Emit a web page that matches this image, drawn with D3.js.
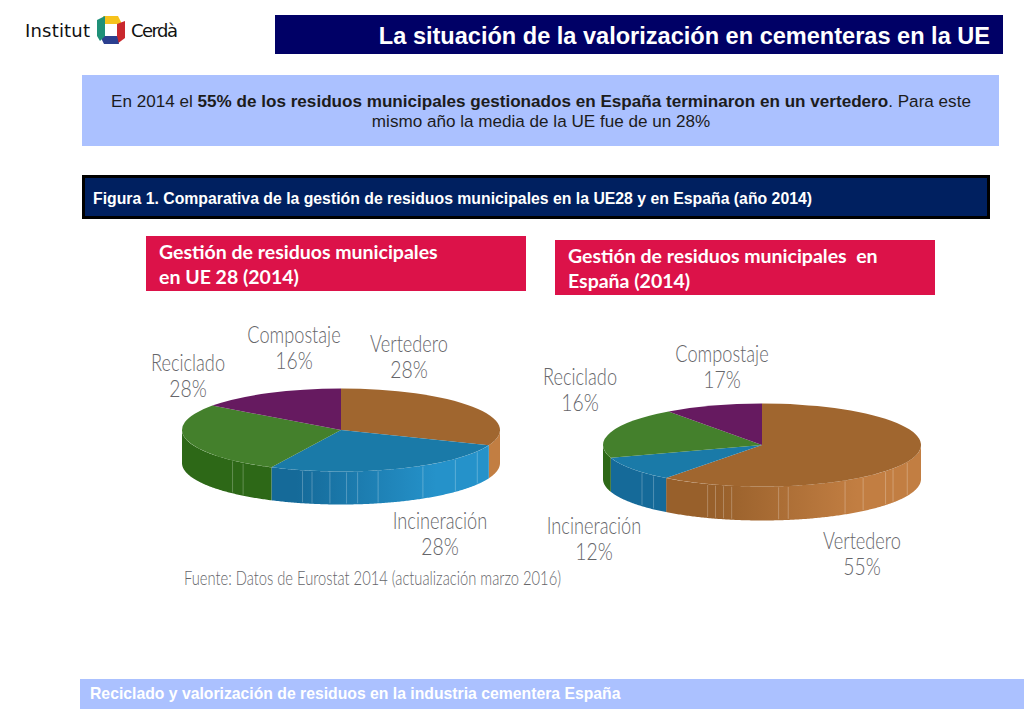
<!DOCTYPE html>
<html lang="es">
<head>
<meta charset="UTF-8">
<title>La situación de la valorización en cementeras en la UE</title>
<style>
    html, body { margin:0; padding:0; background:#fff; }
    svg { display:block; font-family:"Liberation Sans", Arial, sans-serif; }
    .pielabel { font-family:Lato, sans-serif; font-weight:300; font-size:23px; fill:#66666a; text-anchor:middle; }
    .redtitle { font-family:Lato, sans-serif; font-weight:700; font-size:19.5px; fill:#fff; white-space:pre; }
</style>
</head>
<body>
<svg id="chart" width="1024" height="709"></svg>
<script src="https://cdnjs.cloudflare.com/ajax/libs/d3/7.8.5/d3.min.js"></script>
<script>
var categories = ["Vertedero", "Incineración", "Reciclado", "Compostaje"];

// percentages printed on the labels
var ueLabels = [28, 28, 28, 16];
var esLabels = [55, 12, 16, 17];

// share of the circle each slice really takes in the picture (not the printed one)
var ueSlices = [31, 26.2, 27.8, 15];
var esSlices = [60.3, 9.7, 20, 10];

// faint seams on the pie wall, degrees clockwise from 12 o'clock
var ueSeams = [121, 134, 149, 166.5, 174, 178, 184, 190.5, 194, 218, 223];
var esSeams = [114, 124.5, 129, 140.5, 148.5, 170.5, 174, 191, 194, 197, 200, 223, 229];

var topColors = ["#a0662f", "#1a7aa8", "#44802c", "#661a60"];
var wallDark  = ["#98602b", "#156a99", "#2d6817", "#661a60"];
var wallLight = ["#c27e42", "#2592ca", "#3b7a22", "#661a60"];

var svg = d3.select("#chart");
var defs = svg.append("defs");

// header, banners
function box(x, y, w, h, fill) {
    return svg.append("rect").attr("x", x).attr("y", y).attr("width", w).attr("height", h).attr("fill", fill);
}
function label(x, y, txt, size, fill, weight, anchor) {
    return svg.append("text").attr("x", x).attr("y", y).text(txt)
        .style("font-size", size + "px").attr("fill", fill)
        .style("font-weight", weight || "normal").attr("text-anchor", anchor || "start");
}
// the pie captions are a narrow face, squeeze Lato to the same width
function squeeze(sel, k) {
    var w = sel.node().getComputedTextLength();
    sel.attr("textLength", w * k).attr("lengthAdjust", "spacingAndGlyphs");
}

box(275, 15, 728, 39, "#000066");
label(990, 44, "La situación de la valorización en cementeras en la UE", 23.55, "#fff", "bold", "end");

box(82, 75, 917, 71, "#abc1ff");
var line1 = label(541, 107, "", 17.1, "#1c1c1c", "normal", "middle");
line1.append("tspan").text("En 2014 el ");
line1.append("tspan").style("font-weight", "bold").text("55% de los residuos municipales gestionados en España terminaron en un vertedero");
line1.append("tspan").text(". Para este");
label(541, 127, "mismo año la media de la UE fue de un 28%", 17.1, "#1c1c1c", "normal", "middle");

box(83.5, 176.5, 905, 41, "#002060").attr("stroke", "#000").attr("stroke-width", 3);
label(93, 204, "Figura 1. Comparativa de la gestión de residuos municipales en la UE28 y en España (año 2014)", 15.8, "#fff", "bold");

box(80, 679, 944, 30, "#abc1ff");
label(90, 699, "Reciclado y valorización de residuos en la industria cementera España", 15.75, "#fff", "bold");

// logo
var logo = svg.append("g").style("font-family", "'DejaVu Sans', sans-serif").style("font-size", "18px").attr("fill", "#111");
logo.append("text").attr("x", 25).attr("y", 37).attr("textLength", 65).text("Institut");
logo.append("text").attr("x", 131).attr("y", 37).attr("textLength", 47).text("Cerdà");
var logoParts = [
    ["#f6c21c", "103,16 118,16 122,24 105,24"],
    ["#c9282d", "117,24 125,21 125,38 117,44"],
    ["#2b3f8f", "100,36 117,36 119,44 104,44"],
    ["#1f9078", "97,20 105,16 105,36 100,41 97,36"]
];
logo.selectAll("polygon").data(logoParts).enter().append("polygon")
    .attr("fill", function (d) { return d[0]; })
    .attr("points", function (d) { return d[1]; });

// red chart titles
function redTitle(x, y, lines) {
    box(x, y, 380, 55, "#dc1249");
    lines.forEach(function (t, i) {
        svg.append("text").attr("class", "redtitle").attr("x", x + 13).attr("y", y + 23 + i * 24.5).text(t);
    });
}
redTitle(146, 236, ["Gestión de residuos municipales", "en UE 28 (2014)"]);
redTitle(555, 240, ["Gestión de residuos municipales  en", "España (2014)"]);

// flattened pie: top is a d3.arc squashed in y, wall is a d3.area along the front rim
var pie = d3.pie().sort(null).value(function (d) { return d; });

function drawPie(id, cx, cy, rx, ry, depth, slices, seams) {
    var g = svg.append("g").attr("transform", "translate(" + cx + "," + cy + ")");
    var arcs = pie(slices);
    var rimX = function (a) { return rx * Math.sin(a); };
    var rimY = function (a) { return -ry * Math.cos(a); };

    var wall = d3.area()
        .x(function (a) { return rimX(a); })
        .y0(function (a) { return rimY(a); })
        .y1(function (a) { return rimY(a) + depth; });

    arcs.forEach(function (d, i) {
        var a0 = Math.max(d.startAngle, Math.PI / 2), a1 = Math.min(d.endAngle, 3 * Math.PI / 2);
        if (a1 <= a0) return;
        var gradId = id + "-wall-" + i;
        var grad = defs.append("linearGradient").attr("id", gradId)
            .attr("gradientUnits", "userSpaceOnUse")
            .attr("x1", -rx).attr("x2", rx * 0.6).attr("y1", 0).attr("y2", 0);
        grad.append("stop").attr("offset", "0%").attr("stop-color", wallDark[i]);
        grad.append("stop").attr("offset", "45%").attr("stop-color", wallDark[i]);
        grad.append("stop").attr("offset", "100%").attr("stop-color", wallLight[i]);
        var steps = d3.range(a0, a1, 0.01).concat([a1]);
        g.append("path").attr("d", wall(steps)).attr("fill", "url(#" + gradId + ")");
    });

    g.selectAll("line.seam").data(seams).enter().append("line")
        .attr("class", "seam")
        .attr("x1", function (d) { return rimX(d * Math.PI / 180); })
        .attr("x2", function (d) { return rimX(d * Math.PI / 180); })
        .attr("y1", function (d) { return rimY(d * Math.PI / 180) + 1; })
        .attr("y2", function (d) { return rimY(d * Math.PI / 180) + depth - 1; })
        .attr("stroke", "#fff").attr("stroke-opacity", 0.25).attr("stroke-width", 1);

    var top = g.append("g").attr("transform", "scale(1," + (ry / rx) + ")");
    var arc = d3.arc().innerRadius(0).outerRadius(rx);
    top.selectAll("path").data(arcs).enter().append("path")
        .attr("d", arc)
        .attr("fill", function (d, i) { return topColors[i]; });
}

drawPie("ue", 341, 430, 159, 41.5, 33, ueSlices, ueSeams);
drawPie("es", 762, 445, 159, 41.5, 34, esSlices, esSeams);

// labels
function pieLabel(x, y, name, value) {
    squeeze(svg.append("text").attr("class", "pielabel").attr("x", x).attr("y", y).text(name), 0.79);
    squeeze(svg.append("text").attr("class", "pielabel").attr("x", x).attr("y", y + 26).text(value + "%"), 0.84);
}
var ueLabelPos = [[409, 352], [440, 529], [188, 371], [294, 343]];
var esLabelPos = [[862, 549], [594, 534], [580, 385], [722, 362]];
categories.forEach(function (c, i) {
    pieLabel(ueLabelPos[i][0], ueLabelPos[i][1], c, ueLabels[i]);
    pieLabel(esLabelPos[i][0], esLabelPos[i][1], c, esLabels[i]);
});

svg.append("text").attr("x", 184).attr("y", 585)
    .style("font-family", "Lato, sans-serif").style("font-weight", 300).style("font-size", "20px")
    .attr("fill", "#66666a")
    .attr("textLength", 377).attr("lengthAdjust", "spacingAndGlyphs")
    .text("Fuente: Datos de Eurostat 2014 (actualización marzo 2016)");
</script>
</body>
</html>
